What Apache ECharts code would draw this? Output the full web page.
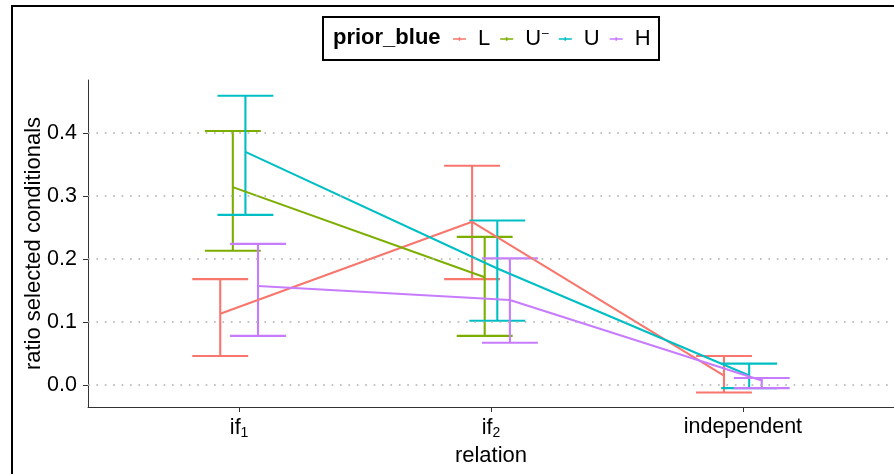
<!DOCTYPE html>
<html>
<head>
<meta charset="utf-8">
<script src="https://cdn.jsdelivr.net/npm/echarts@6/dist/echarts.min.js"></script>
<style>html,body{margin:0;padding:0;background:#fff;}#c{width:894px;height:474px;}</style>
</head>
<body>
<div id="c"></div>
<script>
// ---- data ----
const catBase = ['if', 'if', 'independent'];
const catSub = ['1', '2', ''];
const groups = ['L', 'U⁻', 'U', 'H'];
const colors = ['#F8766D', '#7CAE00', '#00BFC4', '#C77CFF'];
const yTicks = [0, 0.1, 0.2, 0.3, 0.4];

const meanL = [0.113, 0.259, 0.015];
const lowL = [0.046, 0.168, -0.012];
const highL = [0.168, 0.348, 0.046];

const meanUm = [0.314, 0.171, null];
const lowUm = [0.213, 0.078, null];
const highUm = [0.403, 0.235, null];

const meanU = [0.370, 0.185, 0.015];
const lowU = [0.270, 0.102, -0.005];
const highU = [0.459, 0.261, 0.034];

const meanH = [0.157, 0.135, 0.007];
const lowH = [0.078, 0.067, -0.005];
const highH = [0.224, 0.201, 0.011];

const means = [meanL, meanUm, meanU, meanH];
const lows = [lowL, lowUm, lowU, lowH];
const highs = [highL, highUm, highU, highH];

// ---- layout ----
const dodge = 0.05;
const capHalf = 0.111;
const FONT = "'Liberation Sans', Arial, Helvetica, sans-serif";

const series = [];
// gridlines
series.push({
  type: 'line', data: [], silent: true,
  markLine: {
    silent: true, symbol: 'none', label: {show: false},
    lineStyle: {color: '#b0b0b0', width: 1.7, type: [1.7, 6.7]},
    data: yTicks.map(v => ({yAxis: v}))
  }
});

groups.forEach((g, gi) => {
  const off = (gi - 1.5) * dodge;
  const ebData = [];
  const lnData = [];
  catBase.forEach((c, ci) => {
    const x = ci + 1 + off;
    if (means[gi][ci] != null) {
      ebData.push([x, lows[gi][ci], highs[gi][ci]]);
      lnData.push([x, means[gi][ci]]);
    }
  });
  series.push({
    name: g, type: 'custom', data: ebData, z: 3,
    itemStyle: {color: colors[gi]},
    encode: {x: 0, y: [1, 2]},
    renderItem: function (params, api) {
      const x = api.value(0), lo = api.value(1), hi = api.value(2);
      const t = api.coord([x, hi]);
      const b = api.coord([x, lo]);
      const l = api.coord([x - capHalf, hi])[0];
      const r = api.coord([x + capHalf, hi])[0];
      const st = {stroke: colors[gi], lineWidth: 2.1};
      return {type: 'group', children: [
        {type: 'line', shape: {x1: t[0], y1: t[1], x2: b[0], y2: b[1]}, style: st},
        {type: 'line', shape: {x1: l, y1: t[1], x2: r, y2: t[1]}, style: st},
        {type: 'line', shape: {x1: l, y1: b[1], x2: r, y2: b[1]}, style: st}
      ]};
    }
  });
  series.push({
    name: g, type: 'line', data: lnData, z: 4,
    showSymbol: false, symbol: 'none',
    lineStyle: {color: colors[gi], width: 2.1},
    itemStyle: {color: colors[gi]}
  });
});

const legendIcon = 'path://M0,3.2h13v1.6h-13z M5.7,2.2h1.6v3.6h-1.6z';

const option = {
  animation: false,
  backgroundColor: '#fff',
  textStyle: {fontFamily: FONT},
  grid: {left: 88, right: 0, top: 80, bottom: 67, containLabel: false},
  legend: {
    data: groups.map(g => ({name: g, icon: legendIcon})),
    left: 453, top: 28, padding: 0,
    itemWidth: 13, itemHeight: 8, itemGap: 10,
    selectedMode: false,
    formatter: function (n) {
      if (n === 'U⁻') return '{m|U}{s|–}';
      return '{m|' + n + '}';
    },
    textStyle: {
      fontFamily: FONT, fontSize: 22, color: '#000', padding: [0, 0, 0, 7],
      rich: {
        m: {fontFamily: FONT, fontSize: 22, color: '#000'},
        s: {fontFamily: FONT, fontSize: 12, color: '#000', verticalAlign: 'top', padding: [0, 0, 10, 1]}
      }
    }
  },
  xAxis: {
    type: 'value', min: 0.4, max: 3.6,
    name: 'relation', nameLocation: 'middle', nameGap: 38, nameMoveOverlap: false,
    nameTextStyle: {fontFamily: FONT, fontSize: 22, color: '#000'},
    axisLine: {show: true, onZero: false, lineStyle: {color: '#333', width: 1}},
    axisTick: {show: true, length: 5, lineStyle: {color: '#333'}, customValues: [1, 2, 3]},
    axisLabel: {
      customValues: [1, 2, 3], margin: 9, color: '#000', fontSize: 21.5, fontFamily: FONT,
      formatter: function (v) {
        const i = Math.round(v) - 1;
        if (i < 0 || i > 2) return '';
        return '{m|' + catBase[i] + '}' + (catSub[i] ? '{s|' + catSub[i] + '}' : '');
      },
      rich: {
        m: {fontSize: 21.5, fontFamily: FONT, color: '#000'},
        s: {fontSize: 14, fontFamily: FONT, color: '#000', verticalAlign: 'bottom', padding: [10, 0, 0, 0]}
      }
    },
    splitLine: {show: false}
  },
  yAxis: {
    type: 'value', min: -0.0349, max: 0.484,
    name: 'ratio selected conditionals', nameLocation: 'middle', nameGap: 43, nameMoveOverlap: false,
    nameTextStyle: {fontFamily: FONT, fontSize: 22, color: '#000'},
    axisLine: {show: true, onZero: false, lineStyle: {color: '#333', width: 1}},
    axisTick: {show: true, length: 5, lineStyle: {color: '#333'}, customValues: yTicks},
    axisLabel: {
      customValues: yTicks, margin: 11, color: '#000', fontSize: 21.5, fontFamily: FONT,
      formatter: v => v.toFixed(1)
    },
    splitLine: {show: false}
  },
  graphic: [
    {type: 'rect', shape: {x: 12, y: 6, width: 900, height: 500}, style: {fill: 'none', stroke: '#000', lineWidth: 2}, z: 100},
    {type: 'rect', shape: {x: 323, y: 17, width: 336, height: 43}, style: {fill: 'none', stroke: '#000', lineWidth: 2}, z: 100},
    {type: 'text', left: 333, top: 27, style: {text: 'prior_blue', font: "bold 22px 'Liberation Sans', Arial, sans-serif", fill: '#000'}, z: 100}
  ],
  series: series
};

const chart = echarts.init(document.getElementById('c'), null, {renderer: 'canvas'});
chart.setOption(option);
</script>
</body>
</html>
